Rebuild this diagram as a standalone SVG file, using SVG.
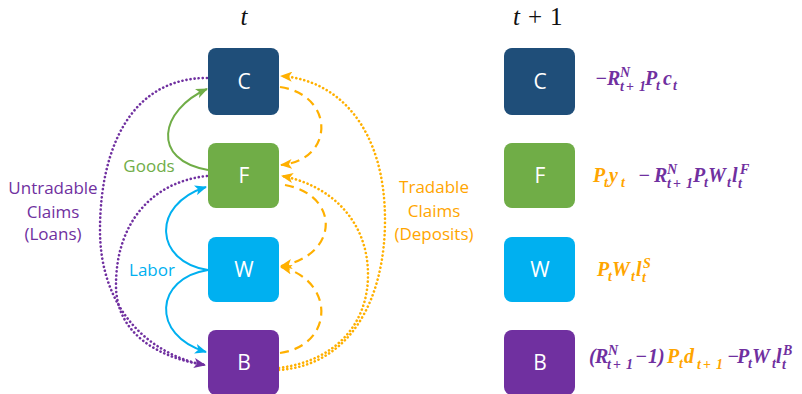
<svg xmlns="http://www.w3.org/2000/svg" width="802" height="394" viewBox="0 0 802 394">
<style>
.box{stroke:none}
.lbl{font-family:"Open Sans","Liberation Sans",sans-serif;font-size:21px;fill:#fff;text-anchor:middle}
.cap{font-family:"Open Sans","Liberation Sans",sans-serif;font-size:17px;text-anchor:middle}
.m{font-family:"Liberation Serif","DejaVu Serif",serif;font-style:italic;font-weight:bold;font-size:20px}
.s{font-size:14px}
.pl{font-size:14px;font-style:normal}
.pu{fill:#7030A0}
.or{fill:#FFA500}
.title{font-family:"Liberation Serif","DejaVu Serif",serif;font-size:25px;fill:#111}
.solid{fill:none;stroke-width:2}
.dot{fill:none;stroke-width:2.6;stroke-dasharray:0.1 4;stroke-linecap:round}
.dash{fill:none;stroke-width:2.2;stroke-dasharray:9 6}
</style>
<defs>
<marker id="aG" viewBox="0 0 12 10" refX="11" refY="5" markerWidth="12" markerHeight="10" markerUnits="userSpaceOnUse" orient="auto"><path d="M0,0 L12,5 L0,10 L3,5 Z" fill="#70AD47"/></marker>
<marker id="aB" viewBox="0 0 12 10" refX="11" refY="5" markerWidth="12" markerHeight="10" markerUnits="userSpaceOnUse" orient="auto"><path d="M0,0 L12,5 L0,10 L3,5 Z" fill="#00B0F0"/></marker>
<marker id="aP" viewBox="0 0 12 10" refX="11" refY="5" markerWidth="12" markerHeight="10" markerUnits="userSpaceOnUse" orient="auto"><path d="M0,0 L12,5 L0,10 L3,5 Z" fill="#7030A0"/></marker>
<marker id="aO" viewBox="0 0 12 10" refX="11" refY="5" markerWidth="12" markerHeight="10" markerUnits="userSpaceOnUse" orient="auto"><path d="M0,0 L12,5 L0,10 L3,5 Z" fill="#FFB000"/></marker>
</defs>

<text class="title" x="244" y="25" text-anchor="middle" font-style="italic">t</text>
<text class="title" y="25"><tspan x="513" font-style="italic">t</tspan><tspan x="528">+</tspan><tspan x="550">1</tspan></text>

<g id="connectors">
<path class="solid" stroke="#70AD47" d="M208,170 C150,160 160,110 207,89" marker-end="url(#aG)"/>
<path class="solid" stroke="#00B0F0" d="M208,270 C155,262 150,205 206,187" marker-end="url(#aB)"/>
<path class="solid" stroke="#00B0F0" d="M208,270 C155,278 150,335 206,352" marker-end="url(#aB)"/>
<path class="dot" stroke="#7030A0" d="M207,78 C130,78 100,150 100,230 C100,310 150,355 205,365" marker-end="url(#aP)"/>
<path class="dot" stroke="#7030A0" d="M207,176 C150,182 116,225 116,285 C116,335 160,358 205,365"/>
<path class="dot" stroke="#FFB000" d="M279,370 C350,365 385,300 385,220 C385,130 340,80 281,76" marker-end="url(#aO)"/>
<path class="dot" stroke="#FFB000" d="M279,368 C340,360 368,320 368,275 C368,220 330,185 282,176" marker-end="url(#aO)"/>
<path class="dash" stroke="#FFB000" d="M280,87 C335,95 335,160 281,165" marker-end="url(#aO)"/>
<path class="dash" stroke="#FFB000" d="M285,185 C340,195 340,255 281,266" marker-end="url(#aO)"/>
<path class="dash" stroke="#FFB000" d="M280,353 C335,345 335,280 281,267" marker-end="url(#aO)"/>
</g>

<g id="labels">
<text class="cap" fill="#70AD47" x="149" y="172">Goods</text>
<text class="cap" fill="#00B0F0" x="152" y="276">Labor</text>
<text class="cap" fill="#7030A0" x="53" y="194">Untradable</text>
<text class="cap" fill="#7030A0" x="53" y="218">Claims</text>
<text class="cap" fill="#7030A0" x="53" y="240">(Loans)</text>
<text class="cap" fill="#FFA500" x="434" y="193">Tradable</text>
<text class="cap" fill="#FFA500" x="434" y="217">Claims</text>
<text class="cap" fill="#FFA500" x="434" y="240">(Deposits)</text>
</g>

<g id="C_t"><rect class="box" x="208" y="48" width="71" height="67" rx="8" fill="#1F4E79"/><text class="lbl" x="244" y="89">C</text></g>
<g id="F_t"><rect class="box" x="208" y="143" width="71" height="65" rx="8" fill="#70AD47"/><text class="lbl" x="244" y="183">F</text></g>
<g id="W_t"><rect class="box" x="208" y="237" width="71" height="65" rx="8" fill="#00B0F0"/><text class="lbl" x="244" y="277">W</text></g>
<g id="B_t"><rect class="box" x="208" y="330" width="71" height="65" rx="8" fill="#7030A0"/><text class="lbl" x="244" y="370">B</text></g>

<g id="C_t1"><rect class="box" x="504" y="48" width="71" height="67" rx="8" fill="#1F4E79"/><text class="lbl" x="540" y="89">C</text>
<text class="m pu"><tspan x="595" y="85">−</tspan><tspan x="607" y="85">R</tspan><tspan class="s" x="620" y="77">N</tspan><tspan class="s" x="620" y="91">t</tspan><tspan class="pl" x="626" y="91">+</tspan><tspan class="s" x="639" y="91">1</tspan><tspan x="645" y="85">P</tspan><tspan class="s" x="656" y="90">t</tspan><tspan x="663" y="85">c</tspan><tspan class="s" x="673" y="90">t</tspan></text></g>

<g id="F_t1"><rect class="box" x="504" y="143" width="71" height="65" rx="8" fill="#70AD47"/><text class="lbl" x="540" y="183">F</text>
<text class="m or"><tspan x="593" y="182">P</tspan><tspan class="s" x="604" y="187">t</tspan><tspan x="609" y="182">y</tspan><tspan class="s" x="621" y="187">t</tspan></text>
<text class="m pu"><tspan x="638" y="182">−</tspan><tspan x="654" y="182">R</tspan><tspan class="s" x="667" y="174">N</tspan><tspan class="s" x="667" y="188">t</tspan><tspan class="pl" x="673" y="188">+</tspan><tspan class="s" x="686" y="188">1</tspan><tspan x="693" y="182">P</tspan><tspan class="s" x="704" y="187">t</tspan><tspan x="708" y="182">W</tspan><tspan class="s" x="727" y="187">t</tspan><tspan x="732" y="182">l</tspan><tspan class="s" x="740" y="174">F</tspan><tspan class="s" x="738" y="188">t</tspan></text></g>

<g id="W_t1"><rect class="box" x="504" y="237" width="71" height="65" rx="8" fill="#00B0F0"/><text class="lbl" x="540" y="277">W</text>
<text class="m or"><tspan x="597" y="276">P</tspan><tspan class="s" x="608" y="281">t</tspan><tspan x="612" y="276">W</tspan><tspan class="s" x="631" y="281">t</tspan><tspan x="636" y="276">l</tspan><tspan class="s" x="643" y="268">S</tspan><tspan class="s" x="642" y="282">t</tspan></text></g>

<g id="B_t1"><rect class="box" x="504" y="330" width="71" height="65" rx="8" fill="#7030A0"/><text class="lbl" x="540" y="370">B</text>
<text class="m pu"><tspan x="589" y="363">(</tspan><tspan x="595" y="363">R</tspan><tspan class="s" x="608" y="355">N</tspan><tspan class="s" x="607" y="369">t</tspan><tspan class="pl" x="613" y="369">+</tspan><tspan class="s" x="626" y="369">1</tspan><tspan x="635" y="363">−</tspan><tspan x="648" y="363">1</tspan><tspan x="658" y="363">)</tspan></text>
<text class="m or"><tspan x="667" y="363">P</tspan><tspan class="s" x="679" y="368">t</tspan><tspan x="684" y="363">d</tspan><tspan class="s" x="697" y="369">t</tspan><tspan class="pl" x="703" y="369">+</tspan><tspan class="s" x="716" y="369">1</tspan></text>
<text class="m pu"><tspan x="727" y="363">−</tspan><tspan x="737" y="363">P</tspan><tspan class="s" x="748" y="368">t</tspan><tspan x="752" y="363">W</tspan><tspan class="s" x="772" y="368">t</tspan><tspan x="776" y="363">l</tspan><tspan class="s" x="783" y="355">B</tspan><tspan class="s" x="782" y="369">t</tspan></text></g>
</svg>
